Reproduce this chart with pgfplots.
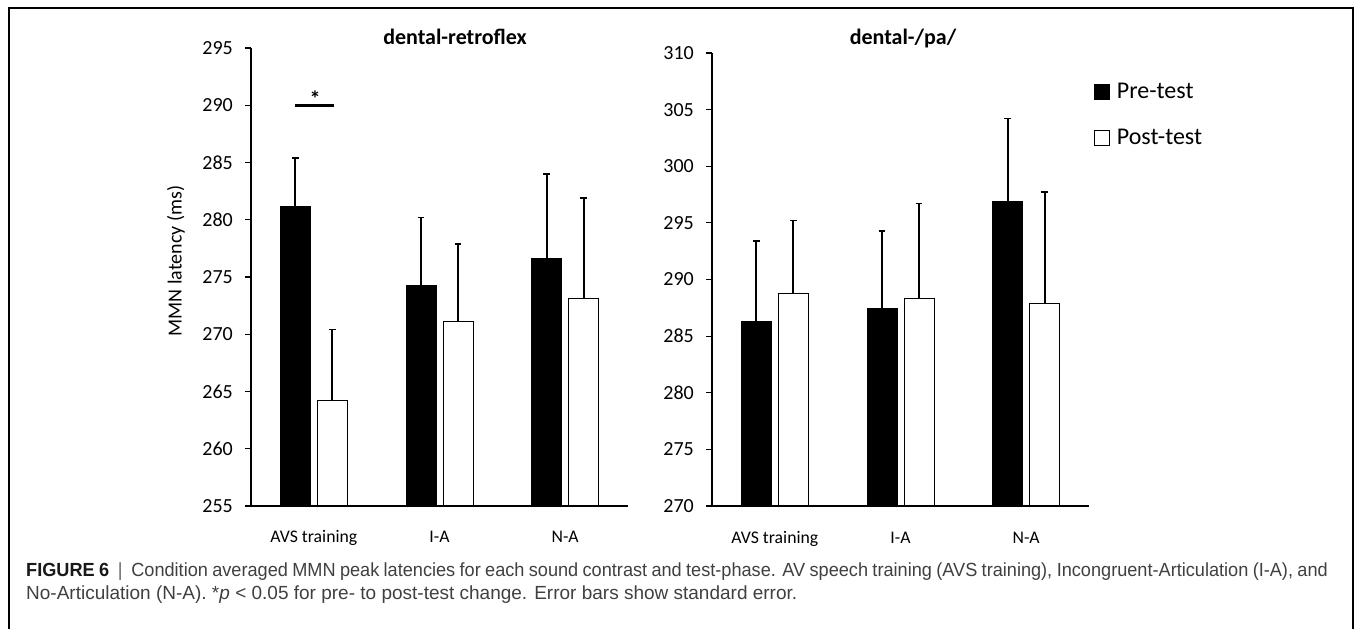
\documentclass[border=0pt]{standalone}
\usepackage{fontspec}
\setmainfont{Carlito}
\newfontfamily\capfont{Liberation Sans}
\usepackage{pgfplots}
\pgfplotsset{compat=1.18}
\pgfplotsset{
  mmn/.style={
    scale only axis, width=377pt,
    axis lines*=left,
    axis line style={black, line width=1.5pt},
    ybar=7pt, bar width=30pt,
    xmin=-0.5, xmax=2.5,
    xtick={0,1,2}, xticklabels={AVS training, I-A, N-A},
    x tick style={draw=none},
    xticklabel style={font=\fontsize{17.7}{20}\selectfont, anchor=base, yshift=-31pt},
    ytick distance=5,
    y tick style={black, line width=1.2pt},
    tick align=outside, major tick length=6pt,
    yticklabel style={font=\fontsize{20}{24}\selectfont, inner sep=0pt, xshift=-12pt},
    /pgf/number format/assume math mode=true,
  },
  barerr/.style={
    error bars/y dir=plus, error bars/y explicit,
    error bars/error bar style={black, line width=1.8pt},
    error bars/error mark options={rotate=90, black, line width=1.6pt, mark size=3.2pt},
    legend image code/.code={\draw[##1, line width=0.8pt] (0pt,-7.5pt) rectangle (15pt,7.5pt);},
  },
  prebar/.style={barerr, fill=black, draw=black, line width=1pt},
  postbar/.style={barerr, fill=white, draw=black, line width=1pt},
}
\begin{document}
\begin{tikzpicture}[x=1pt,y=1pt]
\useasboundingbox (0,0) rectangle (1355,629);
\draw[line width=1.5pt] (9,-2) -- (9,621) -- (1353,621) -- (1353,-2);

\begin{axis}[mmn, at={(251pt,123pt)}, anchor=south west, height=458pt, ymin=255, ymax=295]
\addplot[prebar] coordinates {(0,281.2) +- (0,4.2) (1,274.3) +- (0,5.9) (2,276.6) +- (0,7.4)};
\addplot[postbar] coordinates {(0,264.2) +- (0,6.2) (1,271.1) +- (0,6.8) (2,273.1) +- (0,8.8)};
\addplot[sharp plot, black, line width=3pt, forget plot] coordinates {(-0.153,290) (0.16,290)};
\node[font=\bfseries\fontsize{22}{24}\selectfont] at (axis cs:0.01,290.6) {*};
\end{axis}

\begin{axis}[mmn, at={(712pt,123pt)}, anchor=south west, height=453pt, ymin=270, ymax=310,
  legend style={at={(1.013,0.938)}, anchor=north west, draw=none, fill=none,
    font=\fontsize{24}{26}\selectfont, row sep=25pt, inner sep=0pt,
    /tikz/every odd column/.style={column sep=5pt}},
  legend cell align=left]
\addplot[prebar] coordinates {(0,286.3) +- (0,7.1) (1,287.4) +- (0,6.9) (2,296.9) +- (0,7.3)};
\addplot[postbar] coordinates {(0,288.8) +- (0,6.4) (1,288.3) +- (0,8.4) (2,287.9) +- (0,9.8)};
\legend{Pre-test, Post-test}
\end{axis}

\node[anchor=base, font=\bfseries\fontsize{22}{26}\selectfont] at (455,584) {dental-retroflex};
\node[anchor=base, font=\bfseries\fontsize{22}{26}\selectfont] at (903,584) {dental-/pa/};
\node[rotate=90, font=\fontsize{20}{24}\selectfont] at (176,368) {MMN latency (ms)};

\node[anchor=base west, inner sep=0pt, font=\capfont\fontsize{19}{22}\selectfont, text=black!75] at (26,52)
  {\scalebox{0.955}[1]{\makebox[1363pt][s]{{\bfseries\color{black!90}FIGURE 6}\ \ {\color{black!60}|}\ \ Condition averaged MMN peak latencies for each sound contrast and test-phase. AV speech training (AVS training), Incongruent-Articulation (I-A), and}}};
\node[anchor=base west, inner sep=0pt, font=\capfont\fontsize{19}{22}\selectfont, text=black!75] at (26,29)
  {No-Articulation (N-A). *\textit{p} < 0.05 for pre- to post-test change. Error bars show standard error.};
\end{tikzpicture}
\end{document}
